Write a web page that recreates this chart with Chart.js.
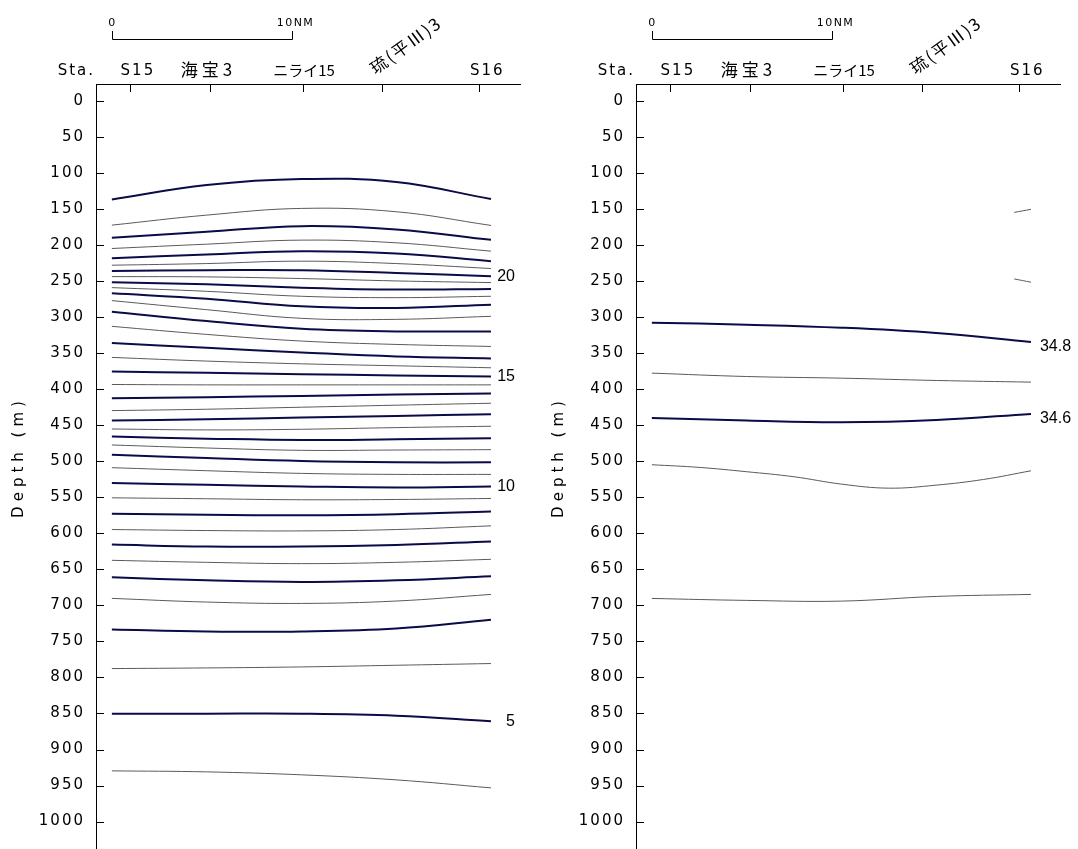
<!DOCTYPE html>
<html>
<head>
<meta charset="utf-8">
<script src="https://cdn.jsdelivr.net/npm/chart.js@4.4.0/dist/chart.umd.min.js"></script>
<style>
  body { margin:0; background:#fff; width:1078px; height:849px; overflow:hidden; position:relative; }
  canvas { position:absolute; top:0; }
  #temp { left:0; }
  #sal { left:540px; }
</style>
</head>
<body>
<canvas id="temp" width="539" height="849"></canvas>
<canvas id="sal" width="538" height="849"></canvas>
<script>
// distance along the section (NM) where each contour is sampled
const distances = [0, 5.26, 10.52, 15.77, 21.03];
const stationNames = ['S15', '海宝3', 'ニライ15', '琉(平Ⅲ)3', 'S16'];
const stationDist = [1.0, 5.47, 10.6, 14.96, 20.38];
const depthTicks = [0, 50, 100, 150, 200, 250, 300, 350, 400, 450, 500, 550, 600, 650, 700, 750, 800, 850, 900, 950, 1000];

// temperature contours (deg C), depth (m) at each distance
const tempLevels = [23, 22.5, 22, 21.5, 21, 20.5, 20, 19.5, 19, 18.5, 18, 17.5, 17, 16.5, 16, 15.5, 15, 14.5, 14,
  13.5, 13, 12.5, 12, 11.5, 11, 10.5, 10, 9.5, 9, 8.5, 8, 7.5, 7, 6.5, 6, 5.5, 5, 4.5];
const tempDepths = [
  [136.8, 116.8, 108.5, 112.7, 136.3],
  [172.5, 158.6, 149.3, 153.9, 172.9],
  [190.1, 181.7, 173.9, 178.5, 192.9],
  [204.9, 198.9, 193.3, 197.0, 208.6],
  [218.4, 213.3, 208.6, 211.9, 222.5],
  [228.1, 225.8, 222.5, 225.8, 232.7],
  [236.0, 235.1, 235.1, 238.8, 243.4],
  [243.9, 244.3, 246.6, 249.9, 252.2],
  [251.7, 254.5, 259.2, 261.9, 261.0],
  [259.2, 264.3, 271.2, 273.1, 271.2],
  [267.0, 274.5, 285.1, 287.4, 282.8],
  [277.2, 289.8, 301.8, 303.2, 299.0],
  [292.5, 305.5, 316.2, 319.9, 319.9],
  [312.9, 324.1, 333.3, 338.0, 340.8],
  [336.1, 342.6, 349.1, 354.7, 357.4],
  [356.0, 361.1, 364.9, 367.6, 370.4],
  [375.5, 377.4, 379.2, 381.1, 382.5],
  [393.6, 394.1, 394.1, 394.1, 394.1],
  [412.6, 411.2, 409.4, 407.5, 406.1],
  [429.8, 427.9, 425.1, 422.3, 419.6],
  [443.7, 441.8, 439.5, 437.2, 434.9],
  [455.3, 456.6, 455.7, 453.4, 451.5],
  [465.9, 468.7, 470.6, 469.6, 468.2],
  [477.5, 481.7, 484.9, 484.5, 484.0],
  [491.0, 495.6, 499.8, 501.6, 501.6],
  [509.0, 513.2, 516.9, 518.3, 518.3],
  [530.4, 532.7, 535.0, 536.4, 535.0],
  [550.8, 552.1, 553.5, 553.1, 551.7],
  [573.0, 574.4, 574.9, 573.5, 569.8],
  [594.8, 596.2, 596.7, 594.8, 589.7],
  [615.7, 618.4, 618.4, 616.1, 611.5],
  [637.5, 640.3, 642.1, 640.3, 636.1],
  [661.1, 665.3, 667.6, 665.3, 659.7],
  [690.3, 695.4, 697.3, 694.0, 684.8],
  [733.5, 736.2, 736.2, 732.1, 720.0],
  [787.7, 786.8, 785.4, 783.1, 780.7],
  [850.3, 850.3, 850.3, 853.1, 860.9],
  [929.6, 931.0, 935.1, 942.1, 953.2]
];
const tempLabelled = [20, 15, 10, 5];

// salinity contours
const salEdgeDist = [20.1, 21.03];
const salFineDist = [0, 2.63, 5.26, 7.89, 10.52, 13.15, 15.77, 18.4, 21.03];
const sal349a = [154.8, 150.6];
const sal349b = [247.1, 251.7];
const sal348 = [307.8, 310.6, 314.8, 322.2, 334.7];
const sal347 = [377.8, 382.5, 384.8, 388.0, 390.3];
const sal346 = [440.0, 443.7, 446.0, 442.8, 434.4];
const sal345a = [504.9, 508.6, 514.6, 521.6, 531.8, 537.4, 533.2, 525.3, 513.3];
const sal345b = [690.4, 693.1, 694.1, 687.6, 684.8];
const salLabelled = [34.8, 34.6];

const thickColor = '#0b0b48', thinColor = '#5a5a5a';
const FONT = '"DejaVu Sans", "Noto Sans CJK JP", sans-serif';
const CJK = '"Noto Sans CJK JP", sans-serif';

function contour(level, dist, depth, thick, labelled) {
  return {
    label: String(level),
    data: dist.map((d, i) => ({x: d, y: depth[i]})),
    borderColor: thick ? thickColor : thinColor,
    borderWidth: thick ? 2 : 1,
    pointRadius: 0,
    tension: 0.4,
    labelled: labelled
  };
}

function decor(side) {
  return {
    id: 'decor',
    beforeDraw(chart) { chart.ctx.letterSpacing = '2px'; },
    afterDraw(chart) {
      const {ctx, chartArea: a, scales: {x, y}} = chart;
      ctx.save();
      ctx.strokeStyle = '#000'; ctx.fillStyle = '#000'; ctx.lineWidth = 1;
      ctx.beginPath();
      // depth ticks point into the plot
      depthTicks.forEach(d => {
        const py = Math.round(y.getPixelForValue(d)) + 0.5;
        ctx.moveTo(a.left, py); ctx.lineTo(a.left + 8, py);
      });
      // station ticks hang from the top axis
      stationDist.forEach(s => {
        const px = Math.round(x.getPixelForValue(s)) + 0.5;
        ctx.moveTo(px, a.top); ctx.lineTo(px, a.top + 8);
      });
      // 10 NM scale bar
      const s0 = Math.round(x.getPixelForValue(0)) + 0.5, s10 = Math.round(x.getPixelForValue(10)) + 0.5;
      ctx.moveTo(s0, 31); ctx.lineTo(s0, 39.5); ctx.lineTo(s10, 39.5); ctx.lineTo(s10, 31);
      ctx.stroke();

      ctx.font = '11px ' + FONT; ctx.letterSpacing = '1.5px';
      ctx.textAlign = 'center'; ctx.textBaseline = 'alphabetic';
      ctx.fillText('0', s0, 26);
      ctx.fillText('10NM', s10 + 3, 26);

      // station names
      const shift = [8, -2, 1, 0, 8];
      stationNames.forEach((n, i) => {
        const px = x.getPixelForValue(stationDist[i]);
        if (i === 3) {
          ctx.save();
          ctx.font = '17px ' + CJK; ctx.letterSpacing = '2px';
          ctx.translate(px - 6, 75); ctx.rotate(-36 * Math.PI / 180);
          ctx.textAlign = 'left'; ctx.fillText(n, 0, 0);
          ctx.restore();
        } else if (i === 1) {
          ctx.font = '17px ' + CJK; ctx.letterSpacing = '4px';
          ctx.fillText(n, px + shift[i], 76);
        } else if (i === 2) {
          ctx.font = '15px ' + CJK; ctx.letterSpacing = '0px';
          ctx.fillText(n, px + shift[i], 76);
        } else {
          ctx.font = '15px ' + FONT; ctx.letterSpacing = '2px';
          ctx.fillText(n, px + shift[i], 75);
        }
      });
      ctx.font = '15px ' + FONT; ctx.letterSpacing = '2px';
      ctx.textAlign = 'right';
      ctx.fillText('Sta.', 95, 75);

      // axis title
      ctx.save();
      ctx.translate(19, 457); ctx.rotate(-Math.PI / 2);
      ctx.textAlign = 'center'; ctx.textBaseline = 'middle'; ctx.letterSpacing = '5px';
      ctx.fillText('Depth (m)', 0, 0);
      ctx.restore();

      // contour labels at the right end of the lines
      ctx.letterSpacing = '0px';
      ctx.font = '16px "Liberation Sans", Arial, sans-serif';
      ctx.textBaseline = 'middle';
      chart.data.datasets.forEach(ds => {
        if (!ds.labelled) return;
        const last = ds.data[ds.data.length - 1];
        const px = x.getPixelForValue(last.x), py = y.getPixelForValue(last.y);
        if (side === 'left') { ctx.textAlign = 'right'; ctx.fillText(ds.label, px + 24, py); }
        else { ctx.textAlign = 'left'; ctx.fillText(ds.label, px + 9, py + 5); }
      });
      ctx.restore();
    }
  };
}

function makeChart(id, datasets, rightPad, side) {
  return new Chart(document.getElementById(id), {
    type: 'line',
    data: {datasets},
    options: {
      responsive: false, animation: false, events: [],
      layout: {padding: {top: 84, right: rightPad, left: 0, bottom: 0}},
      plugins: {legend: {display: false}, tooltip: {enabled: false}},
      scales: {
        x: {
          type: 'linear', position: 'top', min: -0.88, max: 22.64,
          afterFit: s => { s.height = 0; s.paddingLeft = 0; s.paddingRight = 0; },
          grid: {display: false}, ticks: {display: false},
          border: {display: true, color: '#000', width: 1}
        },
        y: {
          type: 'linear', position: 'left', reverse: true, min: -23.3, max: 1038,
          afterBuildTicks: s => { s.ticks = depthTicks.map(v => ({value: v})); },
          afterFit: s => { s.width = 96; s.paddingTop = 0; s.paddingBottom = 0; },
          grid: {display: false},
          border: {display: true, color: '#000', width: 1},
          ticks: {autoSkip: false, padding: 3, color: '#000', font: {family: 'DejaVu Sans', size: 15},
            callback: v => String(v)}
        }
      }
    },
    plugins: [decor(side)]
  });
}

const tempSets = tempLevels.map((lv, i) =>
  contour(lv, distances, tempDepths[i], Number.isInteger(lv), tempLabelled.includes(lv)));

const salSets = [
  contour(34.9, salEdgeDist, sal349a, false, false),
  contour(34.9, salEdgeDist, sal349b, false, false),
  contour(34.8, distances, sal348, true, salLabelled.includes(34.8)),
  contour(34.7, distances, sal347, false, false),
  contour(34.6, distances, sal346, true, salLabelled.includes(34.6)),
  contour(34.5, salFineDist, sal345a, false, false),
  contour(34.5, distances, sal345b, false, false)
];

makeChart('temp', tempSets, 19, 'left');
makeChart('sal', salSets, 18, 'right');
</script>
</body>
</html>
